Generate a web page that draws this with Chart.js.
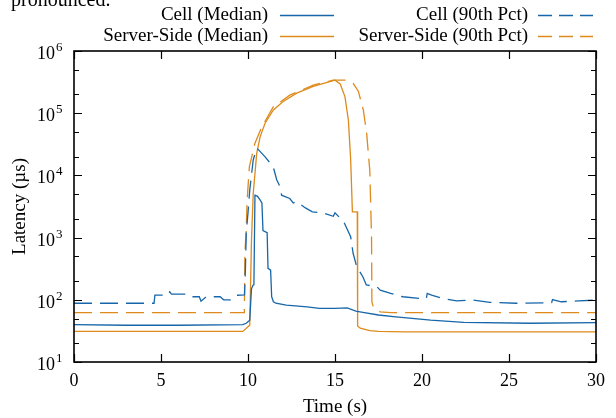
<!DOCTYPE html>
<html>
<head>
<meta charset="utf-8">
<script src="https://cdn.jsdelivr.net/npm/chart.js@4.4.0/dist/chart.umd.min.js"></script>
<style>
  html, body { margin: 0; padding: 0; background: #fff; }
  #wrap { width: 616px; height: 418px; }
</style>
</head>
<body>
<div id="wrap"><canvas id="latencyChart" width="616" height="418"></canvas></div>
<script>
// time (s) and latency (us)
const cellMedT = [0, 3, 6, 9.7, 9.9, 10.1, 10.2, 10.28, 10.34, 10.4, 10.55, 10.7, 10.8, 10.86, 11.1, 11.15, 11.3, 11.36, 11.46, 11.6, 12.2, 13.4, 14.1, 15.0, 15.7, 16.2, 16.6, 17.5, 18.5, 20.5, 22.4, 26.2, 30];
const cellMedV = [40, 39, 39, 40, 42, 47, 150, 170, 175, 4800, 4600, 4000, 3600, 1300, 1200, 320, 300, 112, 93, 88, 82, 77, 73, 73, 74, 66, 63, 57, 53, 47, 43.5, 42, 43];

const cellP90T = [0, 4.6, 4.65, 5.4, 5.5, 5.6, 6.5, 6.7, 7.2, 7.3, 7.6, 8.4, 8.6, 9.0, 9.3, 9.8, 9.85, 9.9, 10.0, 10.1, 10.3, 10.5, 10.65, 10.97, 11.26, 11.45, 11.65, 11.84, 11.93, 12.4, 12.6, 12.8, 13.3, 13.7, 14.3, 14.9, 15.0, 15.5, 15.9, 16.04, 16.25, 16.6, 16.8, 17.4, 17.6, 18.2, 18.9, 19.9, 20.25, 20.3, 20.55, 21.2, 22.0, 22.9, 23.9, 25.4, 27.45, 27.5, 28.0, 29.0, 30];
const cellP90V = [88, 88, 119, 119, 135, 123, 123, 112, 112, 95, 112, 112, 100, 100, 118, 120, 300, 1200, 2500, 5800, 17700, 27500, 25000, 20000, 16000, 13700, 8500, 6600, 4800, 4250, 3600, 3800, 3000, 2600, 2500, 2200, 2500, 1800, 1030, 560, 340, 235, 173, 163, 143, 127, 112, 105, 105, 127, 119, 105, 96, 99, 91, 88, 90, 101, 93, 96, 99];

const serverMedT = [0, 9.7, 10.1, 10.2, 10.25, 10.3, 10.5, 10.7, 10.98, 11.45, 12.0, 12.8, 13.75, 14.9, 15.0, 15.3, 15.57, 15.77, 15.9, 16.0, 16.28, 16.3, 16.45, 17.0, 17.5, 19, 30];
const serverMedV = [31, 31, 39, 910, 2150, 5100, 22600, 42000, 69000, 112000, 153000, 210000, 270000, 334000, 340000, 295000, 185000, 77000, 18000, 2600, 2600, 38, 35, 32, 31, 30.5, 30.5];

const serverP90T = [0, 9.79, 9.82, 9.89, 9.95, 10.08, 10.4, 10.79, 11.45, 12.4, 13.75, 14.9, 15.57, 16.05, 16.34, 16.63, 16.82, 17.0, 17.1, 17.12, 17.2, 17.6, 18.2, 30];
const serverP90V = [62, 62, 560, 1170, 4000, 13800, 33000, 60000, 126000, 195000, 283000, 340000, 340000, 300000, 226000, 112000, 47000, 12000, 1000, 93, 77, 64, 62, 62];

const seriesNames = ["Cell (Median)", "Cell (90th Pct)", "Server-Side (Median)", "Server-Side (90th Pct)"];
const xTicks = [0, 5, 10, 15, 20, 25, 30];
const yMajorTicks = [10, 100, 1000, 10000, 100000, 1000000];
const yMinorTicks = [20, 50, 200, 500, 2000, 5000, 20000, 50000, 200000, 500000];

const BLUE = "#1766a9";
const ORANGE = "#de8a1c";
const SERIF = "'Liberation Serif', 'Times New Roman', serif";
const PLOT_DASH = [18, 8];

function toPoints(ts, vs) {
  return ts.map((t, i) => ({ x: t, y: vs[i] }));
}

// frame, inside tick marks, superscript y labels, legend
const decorPlugin = {
  id: "decor",
  afterDraw(chart) {
    const ctx = chart.ctx;
    const area = chart.chartArea;
    const xs = chart.scales.x;
    const ys = chart.scales.y;
    ctx.save();

    // text from the page above the figure, cut off at the top
    ctx.fillStyle = "#000";
    ctx.font = "20px " + SERIF;
    ctx.textAlign = "left";
    ctx.textBaseline = "alphabetic";
    ctx.fillText("pronounced.", 11, 6);

    ctx.strokeStyle = "#000";
    ctx.lineWidth = 1.6;
    ctx.strokeRect(area.left, area.top, area.right - area.left, area.bottom - area.top);

    ctx.lineWidth = 1.2;
    ctx.beginPath();
    xTicks.forEach(v => {
      const px = Math.round(xs.getPixelForValue(v)) + 0.5;
      ctx.moveTo(px, area.bottom); ctx.lineTo(px, area.bottom - 8);
      ctx.moveTo(px, area.top); ctx.lineTo(px, area.top + 8);
    });
    yMajorTicks.forEach(v => {
      const py = Math.round(ys.getPixelForValue(v)) + 0.5;
      ctx.moveTo(area.left, py); ctx.lineTo(area.left + 8, py);
      ctx.moveTo(area.right, py); ctx.lineTo(area.right - 8, py);
    });
    yMinorTicks.forEach(v => {
      const py = Math.round(ys.getPixelForValue(v)) + 0.5;
      ctx.moveTo(area.left, py); ctx.lineTo(area.left + 5, py);
      ctx.moveTo(area.right, py); ctx.lineTo(area.right - 5, py);
    });
    ctx.stroke();

    // y labels as 10 with raised exponent
    yMajorTicks.forEach(v => {
      const py = ys.getPixelForValue(v);
      ctx.font = "18px " + SERIF;
      ctx.textAlign = "right";
      ctx.textBaseline = "alphabetic";
      ctx.fillText("10", 55, py + 8);
      ctx.font = "13px " + SERIF;
      ctx.textAlign = "left";
      ctx.fillText(String(Math.round(Math.log10(v))), 56, py);
    });

    // legend: label right-aligned then a line sample
    const rows = [
      { name: seriesNames[0], color: BLUE, dash: [], tx: 268, x0: 280, x1: 334, y: 15 },
      { name: seriesNames[2], color: ORANGE, dash: [], tx: 268, x0: 280, x1: 334, y: 36 },
      { name: seriesNames[1], color: BLUE, dash: [14, 7], tx: 528, x0: 538, x1: 593, y: 15 },
      { name: seriesNames[3], color: ORANGE, dash: [14, 7], tx: 528, x0: 538, x1: 593, y: 36 }
    ];
    rows.forEach(r => {
      ctx.fillStyle = "#000";
      ctx.font = "19px " + SERIF;
      ctx.textAlign = "right";
      ctx.textBaseline = "middle";
      ctx.fillText(r.name, r.tx, r.y);
      ctx.strokeStyle = r.color;
      ctx.lineWidth = 1.3;
      ctx.setLineDash(r.dash);
      ctx.beginPath();
      ctx.moveTo(r.x0, r.y + 0.5);
      ctx.lineTo(r.x1, r.y + 0.5);
      ctx.stroke();
    });
    ctx.setLineDash([]);
    ctx.restore();
  }
};

const ctx = document.getElementById("latencyChart").getContext("2d");
new Chart(ctx, {
  type: "line",
  data: {
    datasets: [
      { label: seriesNames[0], data: toPoints(cellMedT, cellMedV), borderColor: BLUE, borderWidth: 1.3 },
      { label: seriesNames[1], data: toPoints(cellP90T, cellP90V), borderColor: BLUE, borderWidth: 1.3, borderDash: PLOT_DASH },
      { label: seriesNames[2], data: toPoints(serverMedT, serverMedV), borderColor: ORANGE, borderWidth: 1.3 },
      { label: seriesNames[3], data: toPoints(serverP90T, serverP90V), borderColor: ORANGE, borderWidth: 1.3, borderDash: PLOT_DASH }
    ]
  },
  options: {
    responsive: false,
    animation: false,
    devicePixelRatio: 1,
    layout: { padding: { left: 0, right: 20, top: 51, bottom: 0 } },
    elements: { point: { radius: 0 }, line: { tension: 0, fill: false } },
    plugins: { legend: { display: false }, tooltip: { enabled: false } },
    scales: {
      x: {
        type: "linear",
        min: 0,
        max: 30,
        grid: { display: false, drawTicks: false },
        border: { display: false },
        ticks: { stepSize: 5, color: "#000", padding: 8, font: { family: SERIF, size: 18 } },
        title: { display: true, text: "Time (s)", color: "#000", padding: { top: 0, bottom: 0 }, font: { family: SERIF, size: 19 } },
        afterFit(scale) { scale.height = 56; }
      },
      y: {
        type: "logarithmic",
        min: 10,
        max: 1000000,
        grid: { display: false, drawTicks: false },
        border: { display: false },
        ticks: { display: false },
        title: { display: true, text: "Latency (µs)", color: "#000", padding: { top: 9, bottom: 0 }, font: { family: SERIF, size: 19 } },
        afterFit(scale) { scale.width = 74; }
      }
    }
  },
  plugins: [decorPlugin]
});
</script>
</body>
</html>
